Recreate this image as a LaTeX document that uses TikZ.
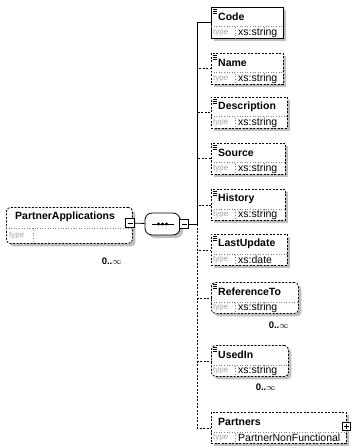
\documentclass[tikz,border=0pt]{standalone}
\usepackage{fontspec}
\setmainfont{Liberation Sans}
\usetikzlibrary{shadows,calc}

\begin{document}
\begin{tikzpicture}[
    x=1pt, y=-1pt,
    box/.style={draw=black, fill=white, anchor=north west, minimum height=31pt, inner sep=0pt, line width=0.8pt, drop shadow={shadow xshift=3pt, shadow yshift=-3pt, fill=gray!50, opacity=1}},
    reqbox/.style={box, solid},
    optbox/.style={box, dash pattern=on 2pt off 1.5pt},
    manybox/.style={optbox, rounded corners=4pt},
    rowline/.style={gray, dotted, line width=0.6pt},
    elemname/.style={font=\fontsize{10.5}{12}\selectfont\bfseries, anchor=west, inner sep=0pt},
    typekey/.style={font=\fontsize{8}{9}\selectfont, text=gray!70, anchor=west, inner sep=0pt},
    typeval/.style={font=\fontsize{10.5}{12}\selectfont, anchor=west, inner sep=0pt},
    mult/.style={font=\fontsize{9.5}{11}\selectfont\bfseries, anchor=north east, inner sep=0pt},
    reqline/.style={line width=0.8pt},
    optline/.style={line width=0.8pt, dash pattern=on 2pt off 1.5pt},
    toggle/.style={draw, fill=white, minimum size=9pt, inner sep=0pt, line width=0.8pt}
]
\useasboundingbox (0,0) rectangle (351,446);

% root element
\node[manybox, minimum width=126pt, minimum height=36pt] (papp) at (6,207) {};
\draw[rowline] ([yshift=16pt]papp.south west) -- ([yshift=16pt]papp.south east);
\draw[rowline] ([xshift=27pt]papp.south west) -- ([xshift=27pt,yshift=16pt]papp.south west);
\node[elemname] at ([xshift=9pt,yshift=-10pt]papp.north west) {PartnerApplications};
\node[typekey] at ([xshift=3pt,yshift=8pt]papp.south west) {type};
\node[mult] at ([xshift=-11pt,yshift=-14pt]papp.south east) {0..$\infty$};
\node[toggle] (pappend) at (130,223) {};
\draw ([xshift=-2.5pt]pappend.center) -- ([xshift=2.5pt]pappend.center);

% sequence compositor
\node[draw, fill=white, minimum width=35pt, minimum height=22pt, rounded corners=7pt, line width=0.8pt, drop shadow={shadow xshift=3pt, shadow yshift=-3pt, fill=gray!50, opacity=1}] (seq) at (162.5,224) {};
\draw[line width=0.8pt] ([xshift=-11pt]seq.center) -- ([xshift=11pt]seq.center);
\foreach \dx in {-4,0,4}
  \fill ([xshift=\dx pt]seq.center) circle (1.7);
\node[toggle] (seqend) at (184,224) {};
\draw ([xshift=-2.5pt]seqend.center) -- ([xshift=2.5pt]seqend.center);
\coordinate (fork) at (197,224);

\draw[reqline] (pappend) -- (seq);
\draw[reqline] (seq) -- (seqend);
\draw[reqline] (seqend) -- (fork);

% child elements
\foreach \id/\y/\w/\lbl/\typ/\kind in {
    code/6.7/72/Code/xs:string/reqbox,
    name/53/72/Name/xs:string/optbox,
    desc/97/76/Description/xs:string/optbox,
    source/143/74/Source/xs:string/optbox,
    history/189/74/History/xs:string/optbox,
    lastupd/234/76/LastUpdate/xs:date/optbox,
    refto/282/87/ReferenceTo/xs:string/manybox,
    usedin/345/77/UsedIn/xs:string/manybox} {
  \node[\kind, minimum width=\w pt] (\id) at (211,\y) {};
  \draw[rowline] ([yshift=12pt]\id.south west) -- ([yshift=12pt]\id.south east);
  \draw[rowline] ([xshift=24pt]\id.south west) -- ([xshift=24pt,yshift=12pt]\id.south west);
  \node[elemname] at ([xshift=7pt,yshift=-10pt]\id.north west) {\lbl};
  \node[typekey] at ([xshift=2pt,yshift=6pt]\id.south west) {type};
  \node[typeval] at ([xshift=27pt,yshift=6pt]\id.south west) {\typ};
  \foreach \dy in {2.5,4.5,6.5}
    \draw[line width=0.6pt] ([xshift=1.5pt,yshift=-\dy pt]\id.north west) -- ++(4,0);
}
\node[mult] at ([xshift=-10pt,yshift=-8pt]refto.south east) {0..$\infty$};
\node[mult] at ([xshift=-13pt,yshift=-7pt]usedin.south east) {0..$\infty$};

\node[optbox, minimum width=135pt] (partners) at (211,412) {};
\draw[rowline] ([yshift=12pt]partners.south west) -- ([yshift=12pt]partners.south east);
\draw[rowline] ([xshift=24pt]partners.south west) -- ([xshift=24pt,yshift=12pt]partners.south west);
\node[elemname] at ([xshift=7pt,yshift=-10pt]partners.north west) {Partners};
\node[typekey] at ([xshift=2pt,yshift=6pt]partners.south west) {type};
\node[typeval] at ([xshift=27pt,yshift=6pt]partners.south west) {PartnerNonFunctional};
\node[toggle, minimum size=8pt] (partplus) at (346,426) {};
\draw ([xshift=-2.5pt]partplus.center) -- ([xshift=2.5pt]partplus.center);
\draw ([yshift=-2.5pt]partplus.center) -- ([yshift=2.5pt]partplus.center);

% connectors
\draw[reqline] (fork) |- (code.west);
\foreach \id in {name,desc,source,history,lastupd,refto,usedin,partners}
  \draw[optline] (fork) |- (\id.west);

\end{tikzpicture}
\end{document}
